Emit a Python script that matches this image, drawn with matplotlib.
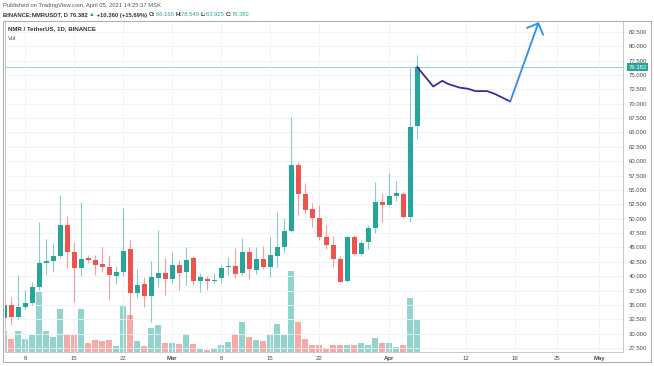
import matplotlib
matplotlib.use("Agg")
import matplotlib.pyplot as plt
import matplotlib.dates as mdates
import pandas as pd
from matplotlib.patches import Rectangle

plt.rcParams["font.family"] = ["Liberation Sans", "DejaVu Sans"]

# ---------- data ----------
dates = pd.date_range("2021-02-05", "2021-04-05", freq="D")
opens = [32.7, 35.0, 32.9, 34.6, 35.3, 38.1, 42.3, 42.7, 43.5, 48.9,
         44.2, 41.4, 43.2, 42.8, 42.1, 41.6, 40.0, 40.7, 44.7, 37.1,
         38.6, 36.6, 39.7, 40.5, 39.5, 41.9, 40.7, 43.1, 39.2, 39.5,
         39.1, 39.7, 41.6, 41.8, 40.5, 44.2, 41.1, 43.0, 41.6, 43.5,
         45.1, 47.9, 59.4, 54.3, 51.7, 50.1, 46.8, 45.4, 43.0, 39.2,
         46.8, 43.9, 45.9, 48.4, 52.9, 52.4, 53.9, 54.3, 50.3, 66.2]
highs = [36.4, 36.3, 40.2, 37.6, 39.0, 49.4, 46.5, 45.8, 54.1, 50.5,
         45.9, 52.9, 43.6, 43.7, 45.1, 43.7, 41.8, 51.9, 46.3, 41.2,
         39.9, 42.7, 48.0, 43.2, 44.2, 42.8, 45.1, 43.5, 40.6, 40.1,
         40.5, 42.0, 43.3, 44.9, 46.7, 45.0, 45.1, 45.3, 46.8, 51.2,
         50.1, 67.7, 59.9, 56.2, 52.7, 52.3, 48.9, 46.9, 43.5, 47.0,
         47.2, 46.3, 48.9, 56.4, 54.5, 57.9, 56.6, 54.6, 76.2, 78.5]
lows = [32.3, 31.5, 32.6, 34.3, 35.0, 37.6, 40.2, 40.7, 43.2, 41.4,
        35.5, 40.0, 42.3, 40.2, 40.7, 35.8, 38.6, 40.0, 32.4, 36.2,
        34.6, 32.0, 38.1, 36.7, 38.8, 37.6, 38.5, 38.5, 37.2, 37.6,
        38.8, 38.8, 40.2, 39.6, 40.2, 39.5, 40.4, 41.2, 39.8, 41.6,
        44.0, 47.7, 50.6, 50.9, 48.6, 46.3, 44.7, 41.6, 38.9, 38.9,
        43.5, 43.5, 44.8, 47.5, 49.4, 52.3, 53.0, 50.1, 49.4, 63.9]
closes = [35.0, 32.9, 34.6, 35.3, 38.1, 42.3, 42.7, 43.5, 48.9, 44.2,
          41.4, 43.0, 42.8, 41.9, 41.6, 40.2, 40.7, 44.4, 37.1, 38.5,
          36.6, 39.9, 40.5, 39.5, 41.9, 40.5, 42.8, 39.2, 39.9, 39.1,
          39.3, 41.4, 41.8, 40.4, 44.2, 41.2, 43.0, 41.6, 43.7, 45.1,
          47.9, 59.4, 54.3, 51.5, 50.1, 46.8, 45.4, 43.0, 39.0, 46.8,
          43.9, 45.8, 48.4, 52.9, 52.4, 53.9, 54.5, 50.3, 66.0, 76.382]
volumes = [21, 13, 21, 13, 17, 60, 21, 15, 43, 18,
           18, 43, 9, 12, 11, 12, 6, 46, 37, 11,
           6, 24, 27, 9, 9, 8, 18, 8, 3, 2,
           3, 7, 10, 18, 30, 15, 12, 11, 18, 28,
           17, 81, 30, 13, 7, 7, 4, 7, 7, 7,
           7, 9, 7, 14, 9, 9, 5, 7, 54, 32]

last_price = 76.382

# hand-drawn projection (days after Feb 8, price)
proj_days = [56.0, 58.3, 59.6, 60.4, 62.1, 63.3, 64.3, 66.0, 67.1, 69.3]
proj_price = [76.4, 73.0, 74.0, 73.45, 72.8, 72.6, 72.2, 72.2, 71.7, 70.4]
arrow_days = [69.3, 73.3]
arrow_price = [70.4, 84.0]
head_days = [71.7, 73.3, 74.0]
head_price = [83.2, 84.0, 82.0]

tick_dates = ["2021-02-08", "2021-02-15", "2021-02-22", "2021-03-01",
              "2021-03-08", "2021-03-15", "2021-03-22", "2021-04-01",
              "2021-04-12", "2021-04-19", "2021-04-25", "2021-05-01"]
tick_labels = ["8", "15", "22", "Mar", "8", "15", "22", "Apr",
               "12", "19", "25", "May"]
price_ticks = [27.5 + 2.5 * i for i in range(23)]

# ---------- figure ----------
W, H = 654, 366
fig = plt.figure(figsize=(W / 100, H / 100), dpi=100)
ax = fig.add_axes([5 / W, (H - 352) / H, 618 / W, 331 / H])
axv = ax.twinx()
axv.set_zorder(0)
ax.set_zorder(1)
ax.patch.set_visible(False)

GREEN, RED = "#26a69a", "#ef5350"
VGREEN, VRED = "#93d3cd", "#f7a9a7"

x0 = mdates.date2num(pd.Timestamp("2021-02-08"))
xs = mdates.date2num(dates)
up = [c >= o for o, c in zip(opens, closes)]

axv.bar(xs, volumes, width=0.78,
        color=[VGREEN if u else VRED for u in up], zorder=1)
axv.set_ylim(0, 331)
axv.set_yticks([])

for x, o, h, l, c, u in zip(xs, opens, highs, lows, closes, up):
    col = GREEN if u else RED
    ax.vlines(x, l, h, color=col, lw=0.8, alpha=0.55, zorder=2)
    ax.add_patch(Rectangle((x - 0.36, min(o, c)), 0.72, max(abs(c - o), 0.12),
                           color=col, lw=0, zorder=3))

ax.axhline(last_price, color="#8fd3cb", lw=0.7, zorder=1)

px = [x0 + d for d in proj_days]
ax.plot(px, proj_price, color="#4527a0", lw=1.3, zorder=4,
        solid_capstyle="round", solid_joinstyle="round")
ax.plot([x0 + d for d in arrow_days], arrow_price, color="#2b8fe8", lw=1.3,
        zorder=4, solid_capstyle="round")
ax.plot([x0 + d for d in head_days], head_price, color="#2b8fe8", lw=1.3,
        zorder=4, solid_capstyle="round", solid_joinstyle="round")

ax.set_xlim(x0 - 2.86, x0 + 85.4)
ax.set_ylim(26.8, 84.4)

ax.set_xticks(mdates.date2num(pd.to_datetime(tick_dates)))
ax.set_xticklabels(tick_labels)
for t, lab in zip(ax.get_xticklabels(), tick_labels):
    if not lab.isdigit():
        t.set_fontweight("bold")
ax.tick_params(axis="x", length=0, pad=3, labelsize=4.3, colors="#4a4a4a")

ax.yaxis.tick_right()
ax.set_yticks(price_ticks)
ax.set_yticklabels([f"{p:.3f}" for p in price_ticks])
ax.tick_params(axis="y", length=0, pad=4, labelsize=4.3, colors="#4a4a4a")

ax.grid(True, color="#eef1f6", lw=0.6)
for s in ax.spines.values():
    s.set_color("#c8c8c8")
    s.set_linewidth(0.7)
for s in axv.spines.values():
    s.set_visible(False)

# last price tag on the price scale
ax.annotate(f"{last_price:.3f}", xy=(1, last_price),
            xycoords=("axes fraction", "data"), xytext=(4, 0),
            textcoords="offset points", va="center", ha="left",
            fontsize=4.3, color="white",
            bbox=dict(boxstyle="square,pad=0.25", fc=GREEN, ec="none"))

# outer frame
fig.patches.append(Rectangle((3 / W, (H - 362) / H), 648 / W, 341 / H,
                             transform=fig.transFigure, fill=False,
                             ec="#b0b0b0", lw=0.8))

# ---------- header texts ----------
fig.text(3 / W, 1 - 6 / H, "Published on TradingView.com, April 05, 2021 14:25:37 MSK",
         fontsize=4.2, color="#555555", va="center")

renderer = fig.canvas.get_renderer()
pieces = [("BINANCE:NMRUSDT, D 76.382 ", "#333333"), ("\u25b2", GREEN),
          (" +10.360 (+15.69%) ", "#333333"),
          ("O:", "#333333"), ("66.165 ", GREEN), ("H:", "#333333"), ("78.549 ", GREEN),
          ("L:", "#333333"), ("63.925 ", GREEN), ("C:", "#333333"), ("76.382", GREEN)]
xpix = 3
for txt, col in pieces:
    t = fig.text(xpix / W, 1 - 15 / H, txt, fontsize=4.2, color=col,
                 va="center", fontweight="bold" if col != GREEN else "normal")
    xpix += t.get_window_extent(renderer).width

fig.text(8 / W, 1 - 29 / H, "NMR / TetherUS, 1D, BINANCE", fontsize=4.4,
         color="#333333", fontweight="bold", va="center")
fig.text(8 / W, 1 - 39 / H, "Vol", fontsize=4.4, color="#555555", va="center")

fig.savefig("out.png", dpi=100)
